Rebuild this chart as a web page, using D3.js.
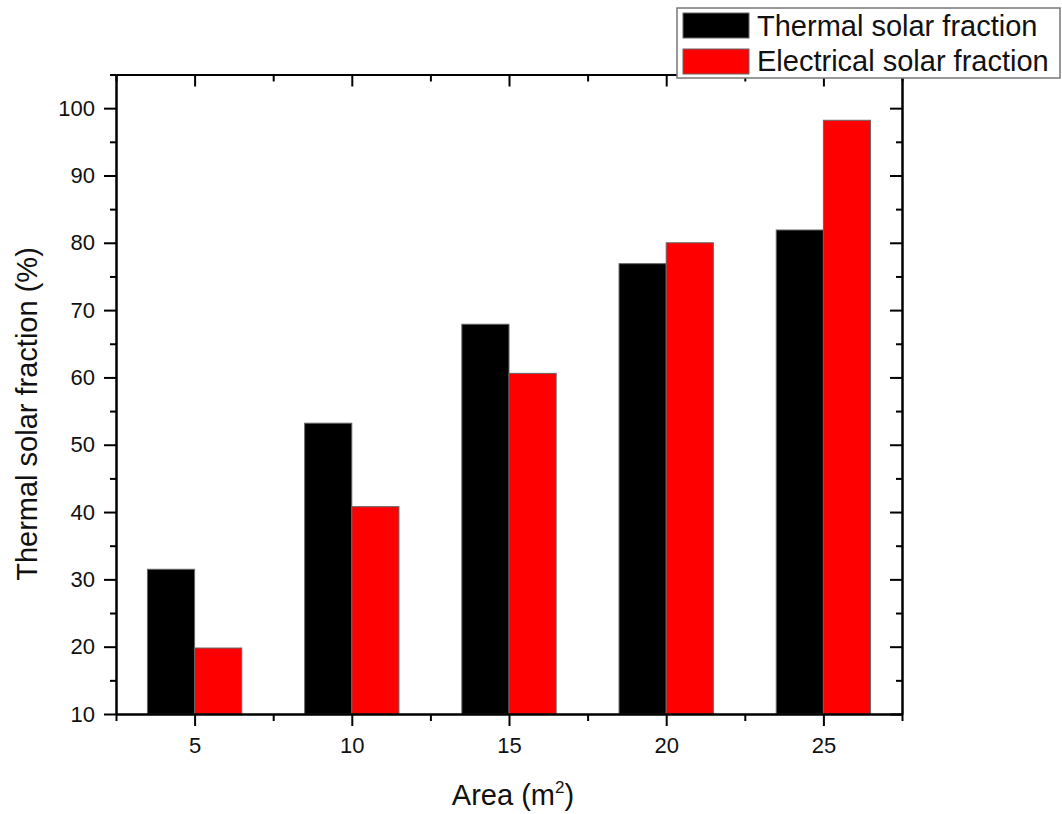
<!DOCTYPE html>
<html lang="en">
<head>
<meta charset="UTF-8">
<title>Solar fraction vs area</title>
<script src="https://d3js.org/d3.v7.min.js"></script>
<style>
  body { margin: 0; background: #fff; }
  svg { font-family: Arial, "Liberation Sans", sans-serif; }
  .tick text { font-size: 22px; font-family: Arial, "Liberation Sans", sans-serif; }
</style>
</head>
<body>
<script>
    // data
    var areas = [5, 10, 15, 20, 25];
    var thermal = [31.5, 53.2, 67.9, 76.9, 81.9];
    var electrical = [19.8, 40.8, 60.6, 80.0, 98.2];
    var seriesNames = ["Thermal solar fraction", "Electrical solar fraction"];
    var yTicks = [10, 20, 30, 40, 50, 60, 70, 80, 90, 100];
    var yMinor = [15, 25, 35, 45, 55, 65, 75, 85, 95, 105];
    var xMinor = [2.5, 7.5, 12.5, 17.5, 22.5, 27.5];

    var W = 1062, H = 814;
    var m = { left: 116, right: 902, top: 74.5, bottom: 714 };

    var svg = d3.select("body").append("svg")
        .attr("width", W)
        .attr("height", H);

    var x = d3.scaleLinear().domain([2.5, 27.5]).range([m.left, m.right]);
    var y = d3.scaleLinear().domain([10, 105]).range([m.bottom, m.top]);
    var barW = 1.5; // in x units

    // bars
    var g = svg.append("g");
    g.selectAll("rect.th")
        .data(areas)
        .enter().append("rect")
        .attr("class", "th")
        .attr("x", function (d) { return x(d - barW); })
        .attr("y", function (d, i) { return y(thermal[i]); })
        .attr("width", function (d) { return x(d) - x(d - barW); })
        .attr("height", function (d, i) { return y(10) - y(thermal[i]); })
        .attr("fill", "#000")
        .attr("stroke", "#666")
        .attr("stroke-width", 1);

    g.selectAll("rect.el")
        .data(areas)
        .enter().append("rect")
        .attr("class", "el")
        .attr("x", function (d) { return x(d); })
        .attr("y", function (d, i) { return y(electrical[i]); })
        .attr("width", function (d) { return x(d + barW) - x(d); })
        .attr("height", function (d, i) { return y(10) - y(electrical[i]); })
        .attr("fill", "#ff0000")
        .attr("stroke", "#666")
        .attr("stroke-width", 1);

    // axes
    function style(sel) {
        sel.selectAll("path, line").attr("stroke", "#000").attr("stroke-width", 2);
        sel.selectAll("text").attr("fill", "#111");
    }

    svg.append("g").attr("transform", "translate(0," + m.bottom + ")")
        .call(d3.axisBottom(x).tickValues(areas).tickSize(12).tickSizeOuter(0).tickPadding(11))
        .call(style);
    svg.append("g").attr("transform", "translate(0," + m.bottom + ")")
        .call(d3.axisBottom(x).tickValues(xMinor).tickSize(7).tickSizeOuter(0).tickFormat(""))
        .call(style);

    svg.append("g").attr("transform", "translate(" + m.left + ",0)")
        .call(d3.axisLeft(y).tickValues(yTicks).tickSize(12).tickSizeOuter(0).tickPadding(9))
        .call(style);
    svg.append("g").attr("transform", "translate(" + m.left + ",0)")
        .call(d3.axisLeft(y).tickValues(yMinor).tickSize(6).tickSizeOuter(0).tickFormat(""))
        .call(style);

    // top and right frame, ticks pointing inside
    svg.append("g").attr("transform", "translate(0," + m.top + ")")
        .call(d3.axisTop(x).tickValues(areas).tickSize(-12).tickSizeOuter(0).tickFormat(""))
        .call(style);
    svg.append("g").attr("transform", "translate(0," + m.top + ")")
        .call(d3.axisTop(x).tickValues(xMinor).tickSize(-7).tickSizeOuter(0).tickFormat(""))
        .call(style);
    svg.append("g").attr("transform", "translate(" + m.right + ",0)")
        .call(d3.axisRight(y).tickValues(yTicks).tickSize(-12).tickSizeOuter(0).tickFormat(""))
        .call(style);
    svg.append("g").attr("transform", "translate(" + m.right + ",0)")
        .call(d3.axisRight(y).tickValues(yMinor).tickSize(-6).tickSizeOuter(0).tickFormat(""))
        .call(style);

    // axis titles
    svg.append("text")
        .attr("transform", "translate(37,414) rotate(-90)")
        .attr("text-anchor", "middle")
        .attr("font-size", "29px")
        .attr("fill", "#111")
        .text("Thermal solar fraction (%)");

    var xt = svg.append("text")
        .attr("x", (m.left + m.right) / 2 + 4)
        .attr("y", 805)
        .attr("text-anchor", "middle")
        .attr("font-size", "29px")
        .attr("fill", "#111");
    xt.append("tspan").text("Area (m");
    xt.append("tspan").attr("dy", -12).attr("font-size", "17px").text("2");
    xt.append("tspan").attr("dy", 12).text(")");

    // legend
    var lg = svg.append("g");
    lg.append("rect")
        .attr("x", 677).attr("y", 8)
        .attr("width", 383).attr("height", 70)
        .attr("fill", "#fff")
        .attr("stroke", "#777")
        .attr("stroke-width", 1.5);
    var colors = ["#000", "#ff0000"];
    seriesNames.forEach(function (name, i) {
        lg.append("rect")
            .attr("x", 683).attr("y", 13 + i * 36)
            .attr("width", 66).attr("height", 25)
            .attr("fill", colors[i])
            .attr("stroke", "#666");
        lg.append("text")
            .attr("x", 757).attr("y", 36 + i * 35)
            .attr("font-size", "29px")
            .attr("fill", "#111")
            .text(name);
    });
</script>
</body>
</html>
